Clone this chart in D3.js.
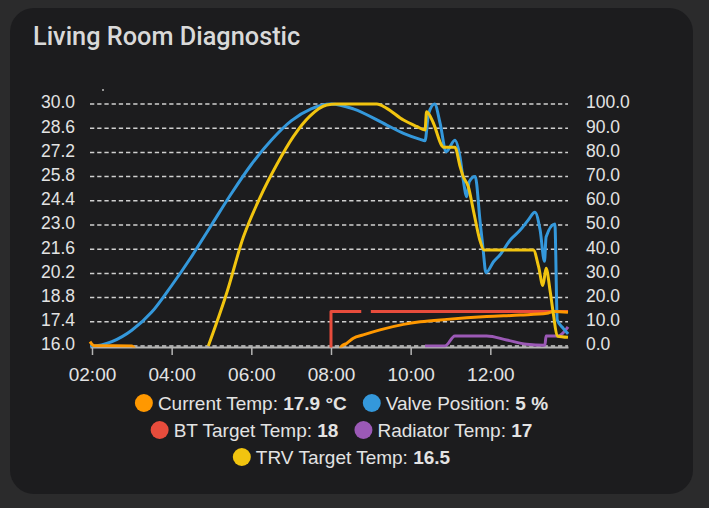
<!DOCTYPE html>
<html lang="en">
<head>
<meta charset="UTF-8" />
<title>Living Room Diagnostic</title>
<script src="https://cdn.jsdelivr.net/npm/d3@7/dist/d3.min.js"></script>
<style>
  body { margin: 0; background: #2b2b2c; }
  svg { display: block; }
</style>
</head>
<body>
<script>

const WIDTH = 709;
const HEIGHT = 508;

// time is in hours of the day
const currentTimes  = [1.95, 2.05, 3.0, 3.2, 8.15, 8.27, 8.39, 8.56, 8.81, 9.23, 9.82, 10.24, 10.91, 11.91, 12.75, 13.42, 13.6, 13.95];
const currentValues = [16.25, 16.02, 16.0, 15.5, 15.5, 16.0, 16.15, 16.45, 16.64, 16.93, 17.25, 17.4, 17.54, 17.7, 17.79, 17.89, 18.0, 17.95];

const valveTimes  = [1.95, 2.0, 2.5, 3.0, 3.5, 4.0, 4.5, 5.0, 5.5, 6.0, 6.5, 7.0, 7.5, 8.0, 8.56, 9.4, 9.82, 10.24, 10.36, 10.45, 10.6, 10.74, 10.89, 11.11, 11.24, 11.32, 11.41, 11.47, 11.62, 11.74, 11.82, 11.89, 12.08, 12.24, 12.5, 12.75, 12.95, 13.12, 13.25, 13.36, 13.4, 13.62, 13.68, 13.83, 13.95];
const valveValues = [0, 0, 1.8, 6.5, 14, 25, 37, 50, 63, 75, 85, 93, 98, 100, 98, 91.3, 87.9, 85.4, 84.8, 96, 100, 92, 80.3, 85, 78, 68.6, 61.7, 67.9, 70, 52, 39.7, 30.3, 34.8, 37.6, 43.8, 47.9, 52, 55.3, 47.9, 35, 45, 50.4, 10.7, 7.3, 5];

const btTargetTimes  = [1.95, 8.0, 8.76, 8.77, 9.0, 13.95];
const btTargetValues = [15, 18, 18, null, 18, 18];

const radiatorTimes  = [10.36, 10.86, 11.11, 11.91, 12.41, 12.91, 13.37, 13.4, 13.71, 13.95];
const radiatorValues = [16.0, 16.0, 16.58, 16.58, 16.35, 16.1, 16.05, 16.58, 16.58, 17.1];

const trvTimes  = [4.92, 5.38, 5.8, 6.22, 6.64, 7.05, 7.47, 7.89, 8.14, 9.15, 9.4, 9.82, 10.15, 10.36, 10.4, 10.57, 10.78, 10.82, 11.11, 11.24, 11.32, 11.45, 11.57, 11.74, 11.84, 13.08, 13.21, 13.32, 13.4, 13.5, 13.58, 13.68, 13.95];
const trvValues = [16, 19.05, 22.3, 24.6, 26.5, 28.1, 29.3, 29.94, 30, 30, 29.75, 29.07, 28.7, 28.5, 29.55, 28.9, 27.6, 27.5, 27.5, 26.4, 25.8, 25.2, 23.9, 22.1, 21.55, 21.55, 20.6, 19.5, 20.5, 19.2, 17.9, 16.58, 16.5];

const leftTicks = [16.0, 17.4, 18.8, 20.2, 21.6, 23.0, 24.4, 25.8, 27.2, 28.6, 30.0];
const rightTicks = [0, 10, 20, 30, 40, 50, 60, 70, 80, 90, 100];
const hourTicks = [2, 4, 6, 8, 10, 12];

const legendNames  = ["Current Temp", "Valve Position", "BT Target Temp", "Radiator Temp", "TRV Target Temp"];
const legendStates = ["17.9 °C", "5 %", "18", "17", "16.5"];
const legendRows = [[0, 1], [2, 3], [4]];

const COLORS = ["#ff9800", "#3498db", "#e74c3c", "#9b59b6", "#f1c40f"];
const TEXT = "#e3e3e3";
const FONT = "'Liberation Sans', Arial, sans-serif";

const svg = d3.select("body").append("svg")
    .attr("width", WIDTH)
    .attr("height", HEIGHT);

// card
svg.append("rect")
    .attr("x", 10).attr("y", 8)
    .attr("width", 683).attr("height", 486)
    .attr("rx", 24)
    .attr("fill", "#1c1c1e");

svg.append("text")
    .attr("x", 33).attr("y", 44.5)
    .attr("font-family", "Roboto, sans-serif")
    .attr("font-weight", 500)
    .attr("font-size", 25.3)
    .attr("fill", "#d9d9d9")
    .text("Living Room Diagnostic");

// stray dot above the plot
svg.append("circle").attr("cx", 103).attr("cy", 90).attr("r", 1).attr("fill", "#bbb");

// scales
const x = d3.scaleLinear().domain([1.95, 13.95]).range([90, 568]);
const yLeft = d3.scaleLinear().domain([16, 30]).range([346, 104]);
const yRight = d3.scaleLinear().domain([0, 100]).range([346, 104]);

// grid
svg.append("g")
    .selectAll("line")
    .data(leftTicks)
    .join("line")
        .attr("x1", 90).attr("x2", 568)
        .attr("y1", d => yLeft(d)).attr("y2", d => yLeft(d))
        .attr("stroke", "#cfcfcf")
        .attr("stroke-width", 1.5)
        .attr("stroke-dasharray", "4.3,2.9");

// left axis
svg.append("g")
    .attr("transform", "translate(90,0)")
    .call(d3.axisLeft(yLeft).tickValues(leftTicks).tickFormat(d3.format(".1f")).tickSize(0).tickPadding(15))
    .call(g => g.select(".domain").remove())
    .call(g => g.selectAll("text")
        .attr("fill", TEXT).attr("font-family", FONT).attr("font-size", 17.5)
        .attr("dy", "0.22em"));

// right axis
svg.append("g")
    .attr("transform", "translate(568,0)")
    .call(d3.axisRight(yRight).tickValues(rightTicks).tickFormat(d3.format(".1f")).tickSize(0).tickPadding(18))
    .call(g => g.select(".domain").remove())
    .call(g => g.selectAll("text")
        .attr("fill", TEXT).attr("font-family", FONT).attr("font-size", 17.5)
        .attr("dy", "0.22em"));

// x axis
svg.append("g")
    .attr("transform", "translate(0,347)")
    .call(d3.axisBottom(x).tickValues(hourTicks)
        .tickFormat(d => String(d).padStart(2, "0") + ":00")
        .tickSize(8).tickSizeOuter(0).tickPadding(13))
    .call(g => g.select(".domain").attr("stroke", "#b5b5b5").attr("stroke-width", 2))
    .call(g => g.selectAll(".tick line").attr("stroke", "#b5b5b5").attr("stroke-width", 1.5))
    .call(g => g.selectAll("text")
        .attr("fill", TEXT).attr("font-family", FONT).attr("font-size", 19));

// lines
svg.append("clipPath").attr("id", "plot")
    .append("rect").attr("x", 88).attr("y", 96).attr("width", 484).attr("height", 251.5);

const series = [
    {times: btTargetTimes, values: btTargetValues, y: yLeft, color: COLORS[2], curve: d3.curveStepAfter},
    {times: radiatorTimes, values: radiatorValues, y: yLeft, color: COLORS[3], curve: d3.curveMonotoneX},
    {times: valveTimes, values: valveValues, y: yRight, color: COLORS[1], curve: d3.curveMonotoneX},
    {times: currentTimes, values: currentValues, y: yLeft, color: COLORS[0], curve: d3.curveMonotoneX},
    {times: trvTimes, values: trvValues, y: yLeft, color: COLORS[4], curve: d3.curveMonotoneX}
];

const plot = svg.append("g").attr("clip-path", "url(#plot)");
series.forEach(s => {
    const pts = s.times.map((t, i) => [t, s.values[i]]);
    const line = d3.line()
        .defined(d => d[1] != null)
        .x(d => x(d[0]))
        .y(d => s.y(d[1]))
        .curve(s.curve);
    plot.append("path")
        .datum(pts)
        .attr("fill", "none")
        .attr("stroke", s.color)
        .attr("stroke-width", 3)
        .attr("stroke-linejoin", "round")
        .attr("d", line);
});

// legend
const legend = svg.append("g");
const rowY = [403, 430, 457];
const CX = 341.5;
legendRows.forEach((row, r) => {
    const g = legend.append("g");
    let cursor = 0;
    row.forEach((k, j) => {
        if (j > 0) cursor += 16;
        g.append("circle")
            .attr("cx", cursor + 9).attr("cy", rowY[r])
            .attr("r", 9)
            .attr("fill", COLORS[k]);
        const t = g.append("text")
            .attr("x", cursor + 23).attr("y", rowY[r] + 6.8)
            .attr("font-family", FONT).attr("font-size", 19)
            .attr("fill", TEXT);
        t.append("tspan").text(legendNames[k] + ": ");
        t.append("tspan").attr("font-weight", "bold").text(legendStates[k]);
        cursor += 23 + t.node().getComputedTextLength();
    });
    g.attr("transform", `translate(${CX - cursor / 2},0)`);
});

</script>
</body>
</html>
